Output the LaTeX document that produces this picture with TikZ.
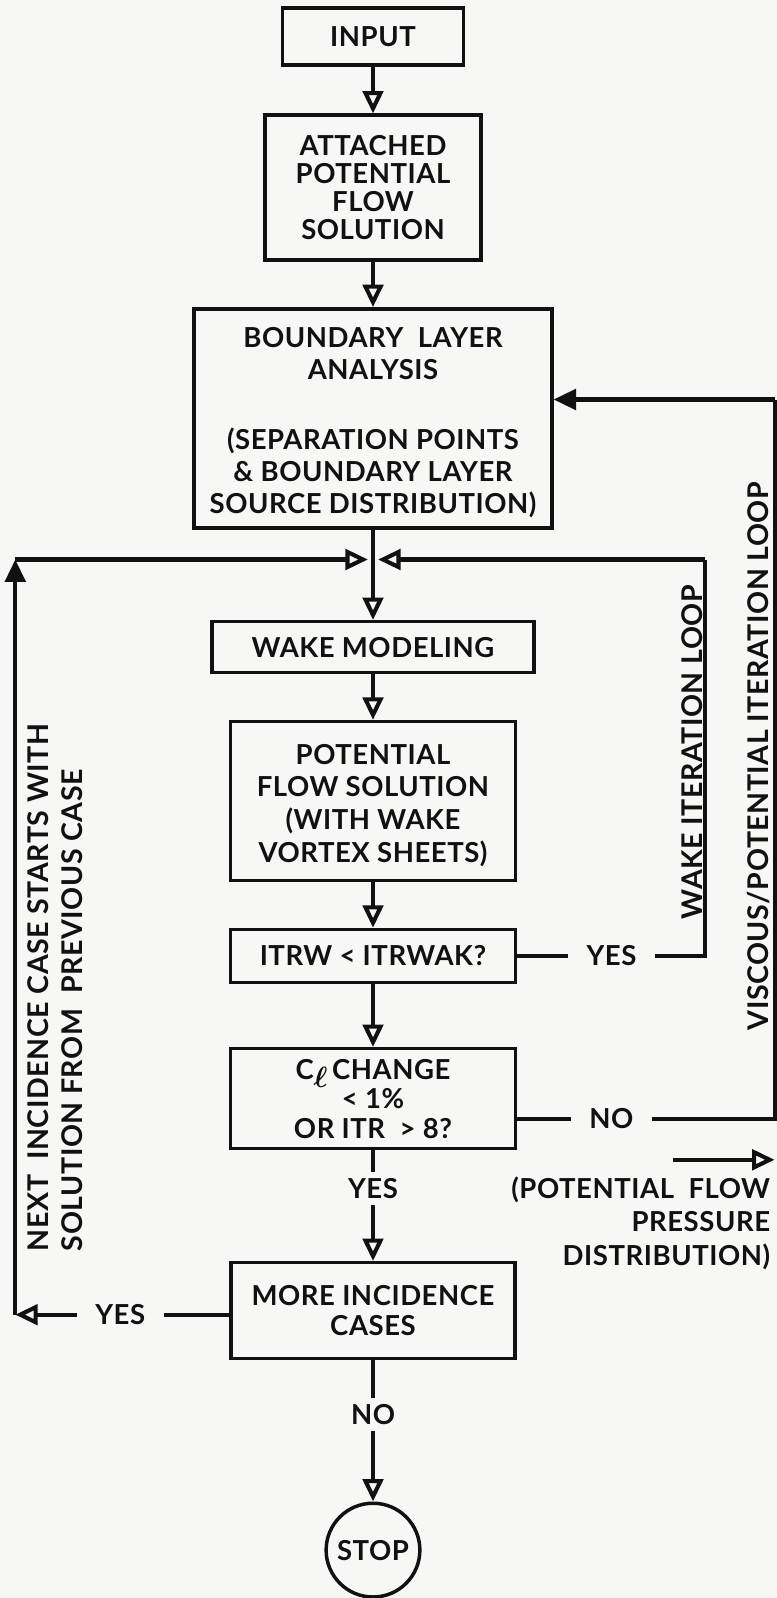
\documentclass[tikz,border=0pt]{standalone}
\usepackage{fontspec}
\setmainfont{Lato}[LetterSpace=2]
\usetikzlibrary{arrows.meta}
\definecolor{ink}{HTML}{111111}
\definecolor{paper}{HTML}{F7F7F5}
\begin{document}
\begin{tikzpicture}[x=0.5pt,y=-0.5pt,
  every node/.style={font=\bfseries\fontsize{13.5}{15.5}\selectfont, text=ink},
  box/.style={draw=ink, line width=1.7pt, rectangle, align=center, inner sep=0pt},
  ln/.style={draw=ink, line width=2pt},
  arr/.style={ln, -{Triangle[open,length=11pt,width=10pt]}},
  farr/.style={ln, -{Triangle[length=11pt,width=10pt]}},
  lbl/.style={inner xsep=9pt, inner ysep=3pt},
  vtext/.style={rotate=90, inner sep=0pt, font=\bfseries\fontsize{14}{17}\selectfont},
]
\fill[paper] (0,0) rectangle (762,1568);
\useasboundingbox (0,0) rectangle (762,1568);

% boxes
\node[box, minimum width=89pt, minimum height=28pt] (input) at (366,36) {INPUT};
\node[box, minimum width=106pt, minimum height=71pt, font=\bfseries\fontsize{13.5}{13.8}\selectfont] (attached) at (366,184) {ATTACHED\\POTENTIAL\\FLOW\\SOLUTION};
\node[box, minimum width=175.5pt, minimum height=107.5pt] (bl) at (366,410.5)
  {\rule{0pt}{14pt}BOUNDARY~~LAYER\\ANALYSIS\\[19pt](SEPARATION POINTS\\\&~BOUNDARY LAYER\\SOURCE DISTRIBUTION)};
\node[box, minimum width=158pt, minimum height=25pt] (wake) at (366,635) {WAKE MODELING};
\node[box, minimum width=140pt, minimum height=78pt, font=\bfseries\fontsize{13.5}{16}\selectfont] (pot) at (366,786)
  {\rule{0pt}{14pt}POTENTIAL\\FLOW SOLUTION\\(WITH WAKE\\VORTEX SHEETS)};
\node[box, minimum width=140pt, minimum height=26pt] (itrw) at (366,938) {ITRW < ITRWAK?};
\node[box, minimum width=140pt, minimum height=49pt, font=\bfseries\fontsize{13.5}{14.5}\selectfont] (cl) at (366,1078)
  {C\raisebox{-0.6ex}{\fontsize{14}{14}\selectfont\boldmath$\ell$}\,CHANGE\\< 1\%\\OR ITR~~> 8?};
\node[box, minimum width=139.5pt, minimum height=47pt, font=\bfseries\fontsize{13.5}{15}\selectfont] (more) at (366,1286)
  {MORE INCIDENCE\\CASES};
\node[draw=ink, line width=1.7pt, circle, minimum size=46pt, inner sep=0pt] (stop) at (366,1521) {STOP};

% labels
\node[lbl] (yes1) at (600,938) {YES};
\node[lbl] (no1) at (600,1098) {NO};
\node[lbl] (yes2) at (366,1166) {YES};
\node[lbl] (yes3) at (118,1290) {YES};
\node[lbl] (no2) at (366,1388) {NO};
\node[anchor=north east, align=right, inner sep=0pt, font=\bfseries\fontsize{13.5}{16.5}\selectfont] (pft) at (756,1154)
  {(POTENTIAL~~FLOW\\PRESSURE\\DISTRIBUTION)};
\node[vtext] (wil) at (679,738) {WAKE ITERATION LOOP};
\node[vtext] (vpl) at (744,742) {VISCOUS/POTENTIAL ITERATION LOOP};
\node[vtext, anchor=west, align=left] (nxt) at (54,1228)
  {NEXT~~INCIDENCE CASE STARTS WITH\\SOLUTION FROM~~PREVIOUS CASE};

% coordinates
\coordinate (Jl) at (361,549);
\coordinate (Jr) at (371,549);
\coordinate (LL) at (15,1290);
\coordinate (UL) at (15,549);
\coordinate (WT) at (692,549);
\coordinate (VT) at (760,392);
\coordinate (pfa) at (660,1138);
\coordinate (pfb) at (760,1138);

% main flow
\draw[arr] (input) -- (attached);
\draw[arr] (attached) -- (bl);
\draw[arr] (bl) -- (wake);
\draw[arr] (wake) -- (pot);
\draw[arr] (pot) -- (itrw);
\draw[arr] (itrw) -- (cl);
\draw[ln] (cl) -- (yes2);
\draw[arr] (yes2) -- (more);
\draw[ln] (more) -- (no2);
\draw[arr] (no2) -- (stop);

% wake iteration loop
\draw[ln] (itrw) -- (yes1);
\draw[ln] (yes1.east) -| (WT);
\draw[arr] (WT) -- (Jr);

% viscous/potential loop
\draw[ln] (no1.west -| cl.east) -- (no1.west);
\draw[ln] (no1.east) -| (VT);
\draw[farr] (VT) -- (VT -| bl.east);

% next incidence loop
\draw[ln] (more.west |- yes3) -- (yes3.east);
\draw[arr] (yes3.west) -- (LL);
\draw[farr] (LL) -- (UL);
\draw[arr] (UL) -- (Jl);

% potential flow pressure arrow
\draw[arr] (pfa) -- (pfb);
\end{tikzpicture}
\end{document}
